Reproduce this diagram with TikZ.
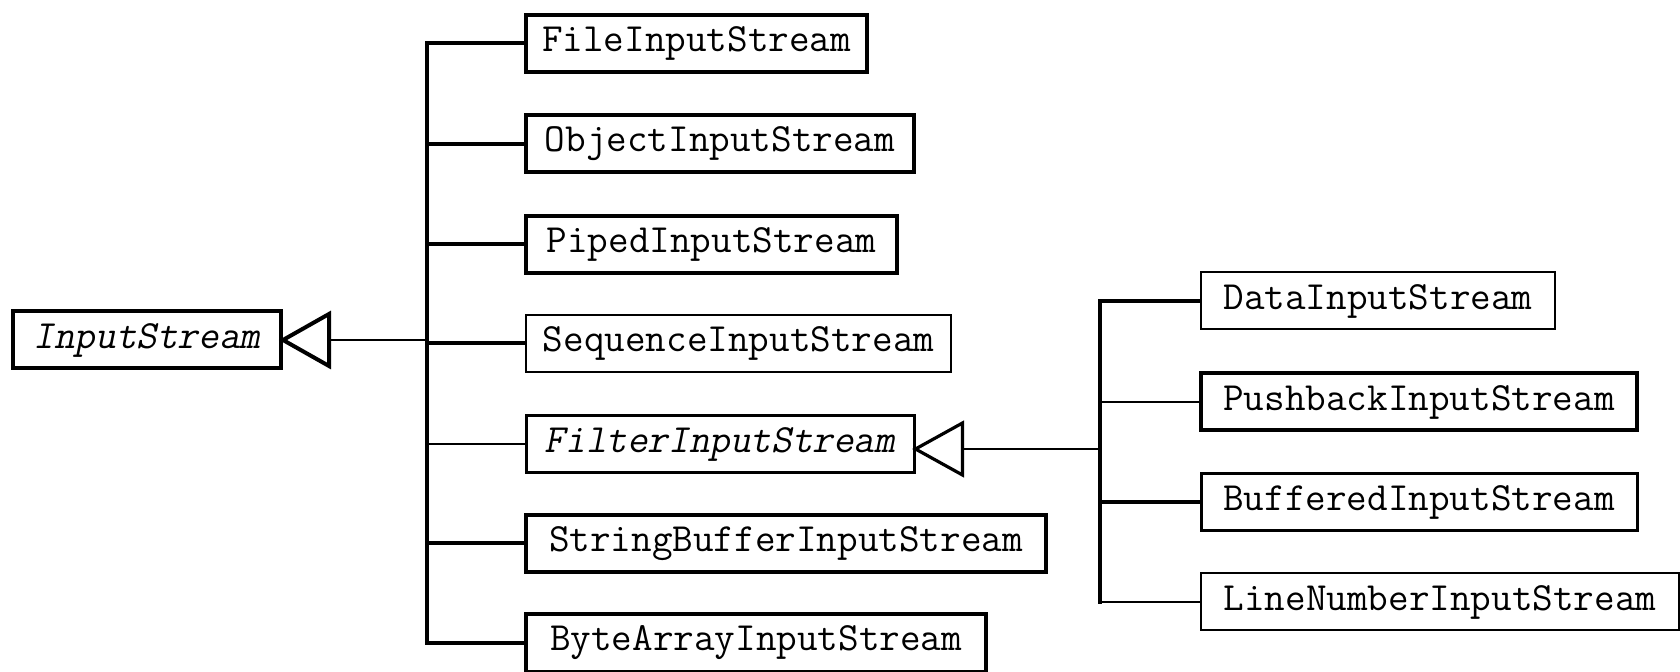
\documentclass[tikz,border=0pt]{standalone}
\usepackage{fontspec}
\newfontfamily\ttslant[FakeSlant=0.2]{Latin Modern Mono}
\usetikzlibrary{calc}
\begin{document}
\begin{tikzpicture}[x=0.5pt,y=-0.5pt,
  box/.style={draw,fill=white,inner sep=0pt,minimum height=28.5pt,
    font=\ttfamily\fontsize{20}{22}\selectfont},
  abstract/.style={font=\ttslant\fontsize{20}{22}\selectfont},
  bthick/.style={line width=2pt},
  bmed/.style={line width=1.5pt},
  bthin/.style={line width=1pt},
  wthick/.style={line width=2pt},
  wthin/.style={line width=0.9pt}]
\useasboundingbox (0,0) rectangle (1680,672);
% nodes
\node[box,abstract,bthick,minimum width=134pt] (root) at (147,340) {InputStream};
\node[box,bthick,minimum width=170.5pt] (file) at (696.5,43.5) {FileInputStream};
\node[box,bthick,minimum width=194pt] (object) at (720,144) {ObjectInputStream};
\node[box,bthick,minimum width=185.5pt] (piped) at (711.5,244.5) {PipedInputStream};
\node[box,bthin,minimum width=212.5pt] (sequence) at (738.5,343.5) {SequenceInputStream};
\node[box,abstract,bmed,minimum width=194pt] (filter) at (720,444) {FilterInputStream};
\node[box,bthick,minimum width=260pt] (sbuffer) at (786,543.5) {StringBufferInputStream};
\node[box,bthick,minimum width=230pt] (bytearray) at (756,643) {ByteArrayInputStream};
\node[box,bthin,minimum width=177pt] (data) at (1378,301) {DataInputStream};
\node[box,bthick,minimum width=218pt] (pushback) at (1419,402) {PushbackInputStream};
\node[box,bmed,minimum width=218pt] (buffered) at (1419,502) {BufferedInputStream};
\node[box,bthin,minimum width=239pt] (linenumber) at (1440,602) {LineNumberInputStream};
% buses
\coordinate (busA) at (427,0);
\coordinate (busB) at (1100,0);
% root generalization triangle
\draw[line width=2pt,line join=miter] (root.east) -- ++(46,-26) coordinate (ra) -- ++(0,52) coordinate (rb) -- cycle;
\coordinate (rbase) at ($(ra)!0.5!(rb)$);
\draw[wthin] (rbase) -- (rbase -| busA);
\draw[wthick,line cap=rect] (file.west -| busA) -- (bytearray.west -| busA);
\draw[wthick] (file.west) -- (file.west -| busA);
\draw[wthick] (object.west) -- (object.west -| busA);
\draw[wthick] (piped.west) -- (piped.west -| busA);
\draw[wthick] (sequence.west) -- (sequence.west -| busA);
\draw[wthin] (filter.west) -- (filter.west -| busA);
\draw[wthick] (sbuffer.west) -- (sbuffer.west -| busA);
\draw[wthick] (bytearray.west) -- (bytearray.west -| busA);
% filter generalization triangle
\path (filter.east) ++(0,5) coordinate (ftip);
\draw[line width=1.6pt,line join=miter] (ftip) -- ++(47,-26) coordinate (fa) -- ++(0,52) coordinate (fb) -- cycle;
\coordinate (fbase) at ($(fa)!0.5!(fb)$);
\draw[wthin] (fbase) -- (fbase -| busB);
\draw[wthick,line cap=rect] (data.west -| busB) -- (linenumber.west -| busB);
\draw[wthick] (data.west) -- (data.west -| busB);
\draw[wthin] (pushback.west) -- (pushback.west -| busB);
\draw[wthick] (buffered.west) -- (buffered.west -| busB);
\draw[wthin] (linenumber.west) -- (linenumber.west -| busB);
\end{tikzpicture}
\end{document}
